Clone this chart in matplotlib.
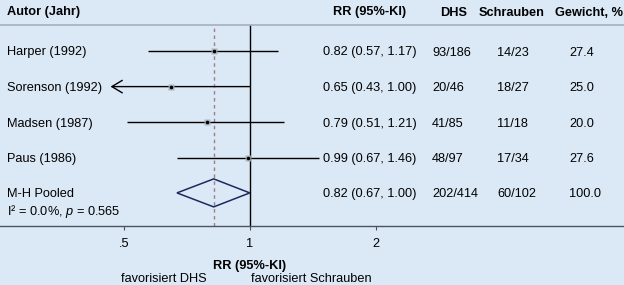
import matplotlib
matplotlib.use("Agg")
import matplotlib.pyplot as plt
import numpy as np

# ---------------- data ----------------
studies = ["Harper (1992)", "Sorenson (1992)", "Madsen (1987)", "Paus (1986)"]
rr = [0.82, 0.65, 0.79, 0.99]
ci_low = [0.57, 0.43, 0.51, 0.67]
ci_high = [1.17, 1.00, 1.21, 1.46]
dhs = ["93/186", "20/46", "41/85", "48/97"]
schrauben = ["14/23", "18/27", "11/18", "17/34"]
weights = [27.4, 25.0, 20.0, 27.6]

pooled_label = "M-H Pooled"
pooled_rr = 0.82
pooled_low = 0.67
pooled_high = 1.00
pooled_dhs = "202/414"
pooled_schrauben = "60/102"
pooled_weight = 100.0
het_text = r"I² = 0.0%, $\it{p}$ = 0.565"

xticks = [0.5, 1, 2]
xticklabels = [".5", "1", "2"]
headers = ["Autor (Jahr)", "RR (95%-KI)", "DHS", "Schrauben", "Gewicht, %"]
xlabel = "RR (95%-KI)"
fav_left = "favorisiert DHS"
fav_right = "favorisiert Schrauben"
x_clip_low = 0.465  # lower display limit for CIs (arrow)

# ---------------- style ----------------
plt.rcParams['font.family'] = ['Liberation Sans', 'DejaVu Sans']
plt.rcParams['mathtext.fontset'] = 'custom'
plt.rcParams['mathtext.rm'] = 'Liberation Sans'
plt.rcParams['mathtext.it'] = 'Liberation Sans:italic'
FS = 9.2
BG = "#dbe8f6"
VA = 'center_baseline'

W, H = 624, 285
fig = plt.figure(figsize=(W / 100, H / 100), dpi=100)
fig.patch.set_facecolor(BG)

top_px, bot_px = 25, 225.5
ax = fig.add_axes([0, (H - bot_px) / H, 1, (bot_px - top_px) / H])
ax.set_facecolor(BG)
ax.set_xscale('log')
ax.set_xlim(0.2532, 7.83)
ax.set_ylim(bot_px, top_px)

for s in ['left', 'right']:
    ax.spines[s].set_visible(False)
ax.spines['top'].set_color('#a3b1bf')
ax.spines['top'].set_linewidth(1.2)
ax.spines['bottom'].set_color('#4a545e')
ax.spines['bottom'].set_linewidth(1.0)
ax.set_yticks([])
ax.set_xticks(xticks)
ax.set_xticklabels(xticklabels, fontsize=FS)
ax.xaxis.set_minor_locator(matplotlib.ticker.NullLocator())
ax.tick_params(axis='x', direction='out', length=3, width=0.8, color='#4a545e', pad=6)

def xf(px):
    return px / W

tr = matplotlib.transforms.blended_transform_factory(ax.transAxes, ax.transData)

# reference lines
ax.axvline(1.0, color='black', lw=1.0, zorder=2)
ax.axvline(pooled_rr, color='#a07c84', lw=1.0, ls=(0, (2.5, 2.5)), zorder=2)

row0, dy = 51, 35.6
rows = [row0 + i * dy for i in range(len(studies))]
pooled_y = row0 + len(studies) * dy - 0.5

for i, y in enumerate(rows):
    lo = max(ci_low[i], x_clip_low)
    if ci_low[i] < x_clip_low:
        ax.annotate('', xy=(lo, y), xytext=(ci_high[i], y),
                    arrowprops=dict(arrowstyle='->,head_length=0.75,head_width=0.45',
                                    lw=1.0, color='black', shrinkA=0, shrinkB=0),
                    zorder=3)
    else:
        ax.plot([lo, ci_high[i]], [y, y], color='black', lw=1.0, zorder=3,
                solid_capstyle='butt')
    ax.plot(rr[i], y, marker='s', ms=np.sqrt(weights[i]) * 0.95, color='#a8b0b8',
            mec='none', zorder=4, alpha=0.9)
    ax.plot(rr[i], y, marker='o', ms=2.6, color='black', mec='none', zorder=5)
    ax.text(xf(7), y, studies[i], transform=tr, fontsize=FS, va=VA, ha='left')
    ax.text(xf(323), y, f"{rr[i]:.2f} ({ci_low[i]:.2f}, {ci_high[i]:.2f})",
            transform=tr, fontsize=FS, va=VA, ha='left')
    ax.text(xf(432), y, dhs[i], transform=tr, fontsize=FS, va=VA, ha='left')
    ax.text(xf(497), y, schrauben[i], transform=tr, fontsize=FS, va=VA, ha='left')
    ax.text(xf(582), y, f"{weights[i]:.1f}", transform=tr, fontsize=FS, va=VA, ha='center')

# pooled diamond
hh = 14
ax.fill([pooled_low, pooled_rr, pooled_high, pooled_rr, pooled_low],
        [pooled_y, pooled_y - hh, pooled_y, pooled_y + hh, pooled_y],
        facecolor='none', edgecolor='#1b2a5c', lw=1.1, zorder=4)
ax.text(xf(7), pooled_y, pooled_label, transform=tr, fontsize=FS, va=VA, ha='left')
ax.text(xf(7), pooled_y + 16, het_text, transform=tr, fontsize=FS, va=VA, ha='left')
ax.text(xf(323), pooled_y, f"{pooled_rr:.2f} ({pooled_low:.2f}, {pooled_high:.2f})",
        transform=tr, fontsize=FS, va=VA, ha='left')
ax.text(xf(432), pooled_y, pooled_dhs, transform=tr, fontsize=FS, va=VA, ha='left')
ax.text(xf(497), pooled_y, pooled_schrauben, transform=tr, fontsize=FS, va=VA, ha='left')
ax.text(xf(585), pooled_y, f"{pooled_weight:.1f}", transform=tr, fontsize=FS, va=VA, ha='center')

# headers
hy = 11
ax.text(xf(7), hy, headers[0], transform=tr, fontsize=FS, fontweight='bold', va=VA, ha='left', clip_on=False)
ax.text(xf(370), hy, headers[1], transform=tr, fontsize=FS, fontweight='bold', va=VA, ha='center', clip_on=False)
ax.text(xf(454), hy, headers[2], transform=tr, fontsize=FS, fontweight='bold', va=VA, ha='center', clip_on=False)
ax.text(xf(512), hy, headers[3], transform=tr, fontsize=FS, fontweight='bold', va=VA, ha='center', clip_on=False)
ax.text(xf(589), hy, headers[4], transform=tr, fontsize=FS, fontweight='bold', va=VA, ha='center', clip_on=False)

# x label and favours
ax.text(1.0, 264, xlabel, fontsize=FS, fontweight='bold', va=VA, ha='center', clip_on=False)
ax.text(xf(207), 278, fav_left, transform=tr, fontsize=FS, va=VA, ha='right', clip_on=False)
ax.text(xf(251), 278, fav_right, transform=tr, fontsize=FS, va=VA, ha='left', clip_on=False)

fig.savefig("out.png", dpi=100, facecolor=BG)
